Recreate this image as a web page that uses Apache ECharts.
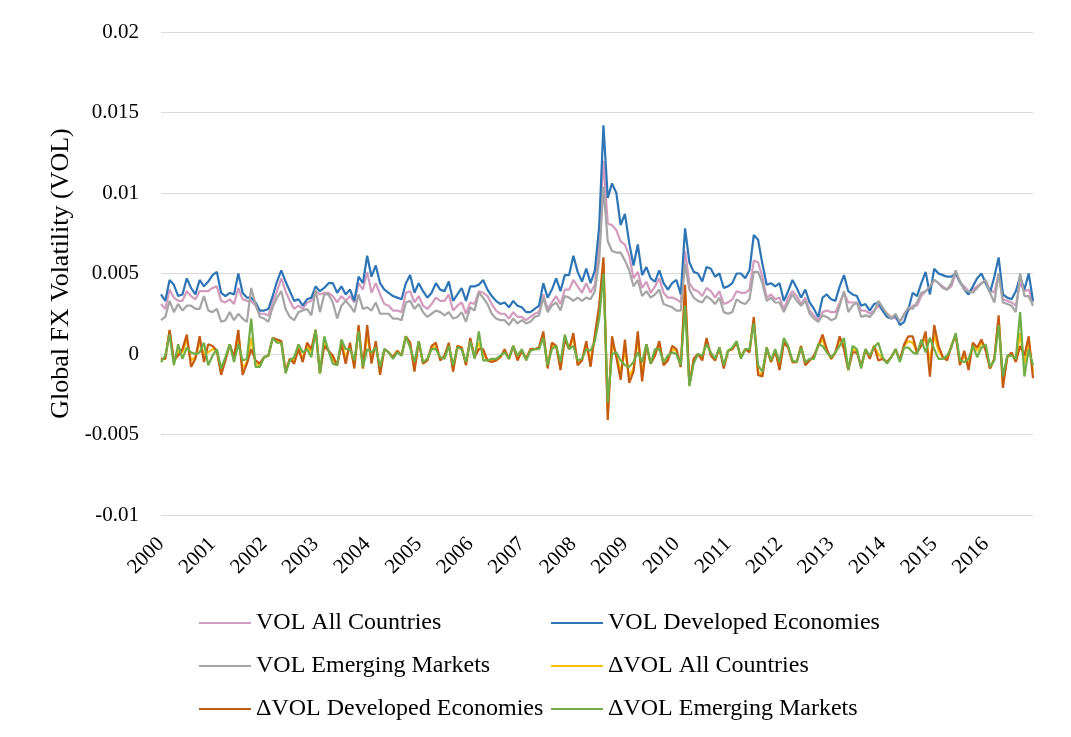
<!DOCTYPE html>
<html>
<head>
<meta charset="utf-8">
<script src="https://cdn.jsdelivr.net/npm/echarts@6/dist/echarts.min.js"></script>
<style>
html,body{margin:0;padding:0;background:#fff;}
#chart{width:1071px;height:737px;}
</style>
</head>
<body>
<div id="chart"></div>
<script>
// Monthly observations, Jan 2000 .. Dec 2016
const years = ['2000','2001','2002','2003','2004','2005','2006','2007','2008','2009','2010','2011','2012','2013','2014','2015','2016'];
const months = ['01','02','03','04','05','06','07','08','09','10','11','12'];
const categories = [];
years.forEach(y => months.forEach(m => categories.push(y + '-' + m)));

const yTicks = [-0.01, -0.005, 0, 0.005, 0.01, 0.015, 0.02];

const volAll = [
0.0031,0.0028,0.0040,0.0035,0.0033,0.0033,0.0039,0.0036,0.0034,0.0039,0.0039,0.0039,
0.0041,0.0042,0.0033,0.0032,0.0034,0.0031,0.0041,0.0034,0.0033,0.0033,0.0030,0.0025,
0.0025,0.0024,0.0032,0.0039,0.0047,0.0039,0.0033,0.0028,0.0030,0.0028,0.0032,0.0033,
0.0039,0.0037,0.0038,0.0038,0.0036,0.0032,0.0036,0.0033,0.0036,0.0032,0.0044,0.0040,
0.0051,0.0038,0.0044,0.0037,0.0031,0.0030,0.0027,0.0027,0.0026,0.0038,0.0039,0.0032,
0.0036,0.0030,0.0028,0.0031,0.0035,0.0033,0.0033,0.0037,0.0027,0.0030,0.0032,0.0025,
0.0032,0.0031,0.0039,0.0038,0.0036,0.0031,0.0027,0.0025,0.0025,0.0022,0.0026,0.0023,
0.0023,0.0021,0.0023,0.0025,0.0026,0.0037,0.0028,0.0032,0.0036,0.0031,0.0040,0.0040,
0.0046,0.0042,0.0038,0.0044,0.0038,0.0043,0.0069,0.0120,0.0081,0.0080,0.0077,0.0070,
0.0068,0.0061,0.0047,0.0051,0.0041,0.0045,0.0038,0.0042,0.0047,0.0038,0.0035,0.0035,
0.0034,0.0032,0.0064,0.0044,0.0040,0.0039,0.0036,0.0041,0.0039,0.0035,0.0039,0.0031,
0.0032,0.0034,0.0039,0.0038,0.0038,0.0040,0.0058,0.0057,0.0048,0.0035,0.0037,0.0034,
0.0035,0.0028,0.0035,0.0039,0.0036,0.0031,0.0035,0.0027,0.0024,0.0021,0.0026,0.0027,
0.0026,0.0026,0.0032,0.0038,0.0032,0.0032,0.0032,0.0027,0.0027,0.0025,0.0027,0.0030,
0.0027,0.0025,0.0023,0.0022,0.0020,0.0024,0.0027,0.0030,0.0030,0.0036,0.0039,0.0041,
0.0046,0.0044,0.0042,0.0040,0.0042,0.0050,0.0044,0.0042,0.0039,0.0040,0.0042,0.0044,
0.0045,0.0040,0.0038,0.0050,0.0034,0.0033,0.0032,0.0030,0.0044,0.0039,0.0040,0.0032
];

const volDev = [
0.0037,0.0033,0.0046,0.0043,0.0036,0.0037,0.0047,0.0041,0.0037,0.0046,0.0042,0.0045,
0.0049,0.0051,0.0038,0.0036,0.0038,0.0037,0.0050,0.0038,0.0035,0.0035,0.0032,0.0027,
0.0027,0.0028,0.0036,0.0045,0.0052,0.0045,0.0039,0.0033,0.0034,0.0030,0.0034,0.0035,
0.0042,0.0039,0.0041,0.0044,0.0044,0.0038,0.0042,0.0037,0.0040,0.0033,0.0048,0.0044,
0.0061,0.0048,0.0055,0.0044,0.0040,0.0038,0.0036,0.0035,0.0034,0.0044,0.0049,0.0038,
0.0044,0.0039,0.0035,0.0038,0.0044,0.0040,0.0039,0.0045,0.0033,0.0037,0.0041,0.0033,
0.0042,0.0042,0.0043,0.0046,0.0040,0.0036,0.0033,0.0031,0.0032,0.0029,0.0033,0.0030,
0.0029,0.0026,0.0026,0.0028,0.0030,0.0044,0.0035,0.0040,0.0047,0.0039,0.0049,0.0049,
0.0061,0.0051,0.0045,0.0053,0.0044,0.0052,0.0079,0.0142,0.0097,0.0106,0.0100,0.0080,
0.0087,0.0069,0.0055,0.0068,0.0049,0.0054,0.0047,0.0045,0.0052,0.0044,0.0040,0.0044,
0.0046,0.0037,0.0078,0.0057,0.0051,0.0050,0.0045,0.0054,0.0053,0.0048,0.0050,0.0041,
0.0042,0.0044,0.0050,0.0050,0.0047,0.0052,0.0074,0.0071,0.0056,0.0043,0.0044,0.0042,
0.0044,0.0033,0.0039,0.0046,0.0041,0.0035,0.0040,0.0032,0.0028,0.0023,0.0035,0.0037,
0.0034,0.0033,0.0042,0.0049,0.0039,0.0037,0.0036,0.0030,0.0031,0.0027,0.0031,0.0032,
0.0027,0.0023,0.0022,0.0024,0.0018,0.0020,0.0028,0.0038,0.0036,0.0044,0.0051,0.0037,
0.0053,0.0050,0.0049,0.0048,0.0048,0.0050,0.0045,0.0040,0.0037,0.0042,0.0047,0.0050,
0.0044,0.0038,0.0048,0.0060,0.0037,0.0035,0.0034,0.0039,0.0048,0.0040,0.0050,0.0033
];

const volEm = [
0.0021,0.0023,0.0033,0.0026,0.0031,0.0027,0.0030,0.0030,0.0028,0.0028,0.0036,0.0027,
0.0026,0.0028,0.0020,0.0021,0.0026,0.0021,0.0025,0.0022,0.0020,0.0041,0.0031,0.0023,
0.0022,0.0020,0.0029,0.0035,0.0039,0.0028,0.0023,0.0021,0.0026,0.0027,0.0028,0.0024,
0.0040,0.0026,0.0037,0.0037,0.0032,0.0022,0.0030,0.0033,0.0030,0.0026,0.0037,0.0028,
0.0029,0.0027,0.0032,0.0025,0.0025,0.0025,0.0022,0.0022,0.0021,0.0032,0.0033,0.0028,
0.0031,0.0026,0.0023,0.0025,0.0027,0.0026,0.0024,0.0026,0.0022,0.0023,0.0026,0.0020,
0.0029,0.0027,0.0038,0.0035,0.0031,0.0025,0.0022,0.0021,0.0021,0.0018,0.0022,0.0019,
0.0021,0.0019,0.0020,0.0023,0.0024,0.0035,0.0026,0.0030,0.0032,0.0027,0.0036,0.0035,
0.0033,0.0035,0.0033,0.0035,0.0034,0.0039,0.0058,0.0104,0.0070,0.0064,0.0063,0.0063,
0.0058,0.0052,0.0042,0.0046,0.0036,0.0039,0.0035,0.0037,0.0040,0.0031,0.0030,0.0029,
0.0027,0.0027,0.0056,0.0040,0.0035,0.0033,0.0032,0.0036,0.0034,0.0031,0.0035,0.0026,
0.0025,0.0026,0.0034,0.0032,0.0031,0.0034,0.0051,0.0051,0.0044,0.0033,0.0035,0.0032,
0.0032,0.0026,0.0032,0.0037,0.0033,0.0030,0.0033,0.0025,0.0022,0.0020,0.0024,0.0023,
0.0021,0.0022,0.0030,0.0039,0.0026,0.0030,0.0032,0.0023,0.0024,0.0023,0.0026,0.0033,
0.0029,0.0025,0.0022,0.0025,0.0020,0.0025,0.0029,0.0028,0.0032,0.0038,0.0039,0.0042,
0.0046,0.0044,0.0041,0.0040,0.0044,0.0052,0.0045,0.0040,0.0039,0.0038,0.0041,0.0044,
0.0046,0.0038,0.0032,0.0050,0.0032,0.0031,0.0030,0.0026,0.0050,0.0036,0.0036,0.0030
];

const dVolAll = [
-0.0004,-0.0002,0.0014,-0.0005,0.0002,0.0001,0.0009,-0.0004,-0.0002,0.0007,0.0000,0.0001,
0.0003,0.0002,-0.0011,-0.0003,0.0006,-0.0003,0.0011,-0.0009,-0.0005,0.0010,-0.0006,-0.0007,
-0.0002,-0.0001,0.0010,0.0008,0.0008,-0.0011,-0.0003,-0.0004,0.0004,-0.0003,0.0005,0.0001,
0.0015,-0.0012,0.0007,0.0002,-0.0003,-0.0007,0.0007,-0.0002,0.0005,-0.0007,0.0016,-0.0009,
0.0012,-0.0003,0.0006,-0.0011,0.0003,0.0001,-0.0002,0.0002,-0.0001,0.0011,0.0006,-0.0009,
0.0008,-0.0006,-0.0004,0.0004,0.0005,-0.0003,-0.0002,0.0006,-0.0009,0.0005,0.0004,-0.0006,
0.0009,-0.0002,0.0007,0.0000,-0.0004,-0.0004,-0.0004,-0.0002,0.0002,-0.0003,0.0005,-0.0003,
0.0002,-0.0003,0.0003,0.0003,0.0004,0.0012,-0.0008,0.0005,0.0005,-0.0008,0.0010,0.0003,
0.0010,-0.0006,-0.0004,0.0006,-0.0004,0.0010,0.0027,0.0056,-0.0036,0.0007,-0.0001,-0.0011,
0.0002,-0.0014,-0.0009,0.0009,-0.0012,0.0006,-0.0006,0.0000,0.0006,-0.0006,-0.0003,0.0003,
0.0002,-0.0008,0.0038,-0.0019,-0.0004,0.0000,-0.0003,0.0008,0.0000,-0.0004,0.0004,-0.0008,
0.0002,0.0003,0.0007,-0.0002,0.0003,0.0002,0.0021,-0.0011,-0.0013,0.0004,-0.0005,0.0002,
-0.0008,0.0008,0.0004,-0.0005,-0.0005,0.0005,-0.0006,-0.0004,-0.0002,0.0005,0.0009,0.0002,
-0.0003,0.0001,0.0009,0.0006,-0.0010,0.0003,0.0002,-0.0008,0.0003,-0.0002,0.0005,0.0000,
-0.0003,-0.0005,-0.0002,0.0003,-0.0004,0.0005,0.0008,0.0007,0.0001,0.0007,0.0009,-0.0004,
0.0012,0.0002,-0.0002,-0.0003,0.0005,0.0012,-0.0006,-0.0001,-0.0007,0.0006,0.0002,0.0007,
0.0004,-0.0009,-0.0003,0.0022,-0.0018,-0.0002,0.0000,-0.0004,0.0013,-0.0006,0.0008,-0.0011
];

const dVolDev = [
-0.0003,-0.0003,0.0015,-0.0004,-0.0001,0.0003,0.0012,-0.0008,-0.0003,0.0011,-0.0005,0.0006,
0.0005,0.0002,-0.0013,-0.0004,0.0006,-0.0002,0.0015,-0.0013,-0.0006,0.0003,-0.0004,-0.0006,
-0.0002,-0.0001,0.0010,0.0009,0.0008,-0.0011,-0.0003,-0.0006,0.0003,-0.0005,0.0007,0.0003,
0.0015,-0.0012,0.0005,0.0002,-0.0001,-0.0007,0.0006,-0.0006,0.0007,-0.0009,0.0018,-0.0009,
0.0018,-0.0006,0.0008,-0.0013,0.0003,0.0001,-0.0002,0.0002,-0.0001,0.0011,0.0007,-0.0011,
0.0008,-0.0006,-0.0004,0.0005,0.0007,-0.0004,-0.0001,0.0007,-0.0011,0.0005,0.0004,-0.0007,
0.0010,-0.0002,0.0003,0.0003,-0.0004,-0.0005,-0.0004,-0.0002,0.0003,-0.0003,0.0005,-0.0004,
0.0002,-0.0003,0.0003,0.0003,0.0004,0.0014,-0.0009,0.0007,0.0005,-0.0010,0.0009,0.0003,
0.0013,-0.0007,-0.0004,0.0008,-0.0008,0.0012,0.0030,0.0060,-0.0041,0.0011,-0.0002,-0.0016,
0.0009,-0.0018,-0.0011,0.0014,-0.0017,0.0006,-0.0006,-0.0001,0.0008,-0.0007,-0.0004,0.0005,
0.0003,-0.0008,0.0043,-0.0019,-0.0003,0.0000,-0.0004,0.0010,-0.0001,-0.0004,0.0004,-0.0009,
0.0002,0.0003,0.0007,-0.0002,0.0003,0.0001,0.0023,-0.0013,-0.0014,0.0004,-0.0005,0.0002,
-0.0010,0.0007,0.0004,-0.0005,-0.0005,0.0005,-0.0007,-0.0004,-0.0001,0.0005,0.0012,0.0003,
-0.0003,0.0001,0.0011,0.0003,-0.0010,0.0001,0.0001,-0.0008,0.0003,-0.0003,0.0005,-0.0004,
-0.0003,-0.0005,-0.0002,0.0003,-0.0004,0.0006,0.0011,0.0011,0.0001,0.0005,0.0014,-0.0014,
0.0018,0.0005,-0.0002,-0.0004,0.0005,0.0012,-0.0007,0.0002,-0.0010,0.0007,0.0004,0.0009,
0.0002,-0.0009,-0.0003,0.0024,-0.0021,-0.0002,0.0001,-0.0005,0.0005,-0.0001,0.0011,-0.0015
];

const dVolEm = [
-0.0005,-0.0001,0.0012,-0.0007,0.0006,-0.0003,0.0004,0.0001,0.0000,0.0001,0.0007,-0.0007,
-0.0001,0.0003,-0.0009,-0.0002,0.0006,-0.0005,0.0006,-0.0004,-0.0003,0.0022,-0.0008,-0.0008,
-0.0002,-0.0001,0.0010,0.0007,0.0007,-0.0012,-0.0004,-0.0002,0.0006,0.0001,0.0003,-0.0002,
0.0015,-0.0012,0.0011,0.0002,-0.0006,-0.0007,0.0009,0.0003,0.0003,-0.0004,0.0014,-0.0008,
0.0003,0.0001,0.0004,-0.0008,0.0003,0.0001,-0.0003,0.0001,-0.0001,0.0011,0.0004,-0.0005,
0.0008,-0.0005,-0.0003,0.0003,0.0003,-0.0002,-0.0003,0.0005,-0.0007,0.0004,0.0003,-0.0005,
0.0008,-0.0003,0.0014,-0.0004,-0.0004,-0.0003,-0.0003,-0.0001,0.0001,-0.0003,0.0005,-0.0001,
0.0003,-0.0004,0.0002,0.0003,0.0003,0.0010,-0.0007,0.0003,0.0005,-0.0005,0.0012,0.0003,
0.0005,-0.0004,-0.0003,0.0003,0.0002,0.0008,0.0022,0.0050,-0.0030,0.0000,0.0001,-0.0004,
-0.0007,-0.0008,-0.0005,0.0001,-0.0005,0.0006,-0.0006,0.0003,0.0003,-0.0005,-0.0001,0.0001,
0.0000,-0.0007,0.0030,-0.0020,-0.0006,0.0000,-0.0001,0.0006,0.0001,-0.0003,0.0004,-0.0007,
0.0002,0.0004,0.0008,-0.0003,0.0003,0.0003,0.0019,-0.0007,-0.0011,0.0004,-0.0004,0.0003,
-0.0005,0.0010,0.0005,-0.0004,-0.0005,0.0004,-0.0005,-0.0003,-0.0003,0.0006,0.0005,0.0001,
-0.0002,0.0001,0.0005,0.0010,-0.0010,0.0005,0.0003,-0.0009,0.0003,-0.0001,0.0004,0.0007,
-0.0002,-0.0006,-0.0002,0.0003,-0.0005,0.0004,0.0004,0.0001,0.0000,0.0009,0.0001,0.0010,
0.0003,-0.0003,-0.0003,-0.0001,0.0004,0.0013,-0.0004,-0.0005,-0.0003,0.0005,-0.0002,0.0004,
0.0006,-0.0008,-0.0004,0.0018,-0.0014,-0.0001,-0.0001,-0.0003,0.0026,-0.0014,0.0003,-0.0007
];

const seriesNames = ['VOL All Countries','VOL Developed Economies','VOL Emerging Markets','\u0394VOL All Countries','\u0394VOL Developed Economies','\u0394VOL Emerging Markets'];
const seriesData = [volAll, volDev, volEm, dVolAll, dVolDev, dVolEm];
const colors = ['#D39CBE','#2E75B6','#A5A5A5','#FFC000','#C55A11','#70AD47'];

const FONT = '"Times New Roman", "Liberation Serif", serif';

const chart = echarts.init(document.getElementById('chart'), null, {renderer:'canvas'});
const legendCommon = {
  orient: 'vertical',
  top: 611,
  padding: 0,
  icon: 'rect',
  itemWidth: 52,
  itemHeight: 2,
  itemGap: 19,
  itemTextGap: 6,
  textStyle: {fontFamily: FONT, fontSize: 24, color: '#000', lineHeight: 24},
  selectedMode: false
};
chart.setOption({
  animation: false,
  backgroundColor: '#fff',
  color: colors,
  grid: {left: 161, right: 38, top: 32, bottom: 222, containLabel: false},
  legend: [
    Object.assign({left: 199, data: [seriesNames[0], seriesNames[2], seriesNames[4]]}, legendCommon),
    Object.assign({left: 551, data: [seriesNames[1], seriesNames[3], seriesNames[5]]}, legendCommon)
  ],
  xAxis: [
    {
      type: 'category', data: categories, boundaryGap: false, position: 'bottom',
      axisLine: {show: false, onZero: false}, axisTick: {show: false},
      axisLabel: {interval: 11, rotate: 45, margin: 26, fontFamily: FONT, fontSize: 21, color: '#000',
        formatter: v => v.slice(0, 4)},
      splitLine: {show: false}
    },
    {
      type: 'category', data: categories, boundaryGap: false, position: 'bottom',
      axisLine: {show: true, onZero: true, lineStyle: {color: '#D9D9D9', width: 1}},
      axisTick: {show: true, interval: 11, length: 5, lineStyle: {color: '#D9D9D9'}},
      axisLabel: {show: false}, splitLine: {show: false}
    }
  ],
  yAxis: {
    type: 'value', min: yTicks[0], max: yTicks[yTicks.length - 1], interval: 0.005,
    name: 'Global FX Volatility (VOL)', nameLocation: 'middle', nameGap: 87,
    nameTextStyle: {fontFamily: FONT, fontSize: 26, color: '#000'},
    axisLine: {show: false}, axisTick: {show: false},
    axisLabel: {margin: 22, fontFamily: FONT, fontSize: 21, color: '#000',
      formatter: v => String(+v.toFixed(3))},
    splitLine: {lineStyle: {color: '#D9D9D9', width: 1}}
  },
  series: seriesNames.map((n, i) => ({
    name: n, type: 'line', data: seriesData[i], xAxisIndex: 0,
    symbol: 'none', showSymbol: false, smooth: false,
    lineStyle: {width: 2.2, color: colors[i]}, itemStyle: {color: colors[i]},
    emphasis: {disabled: true}
  }))
});
</script>
</body>
</html>
